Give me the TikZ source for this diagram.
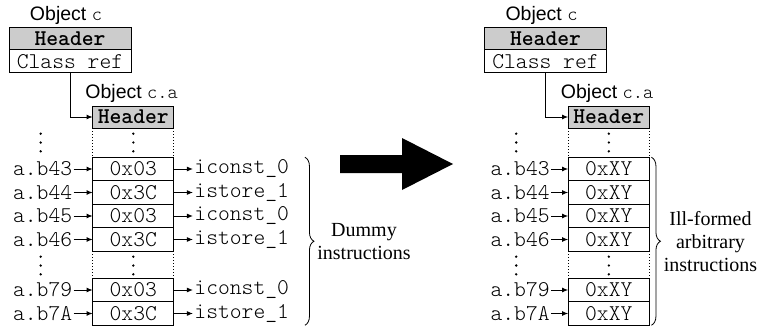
\documentclass[tikz,border=0pt]{standalone}
\usepackage{fontspec}
\setmainfont{Liberation Serif}
\setsansfont{Liberation Sans}
\setmonofont{Latin Modern Mono Light}
\usetikzlibrary{arrows.meta}
\usetikzlibrary{positioning}
\usetikzlibrary{decorations.pathreplacing}

\begin{document}
\begin{tikzpicture}[x=1pt,y=-1pt,>={Latex[length=6pt,width=5pt]},line width=1pt]
		\tikzstyle{objname}=[font=\sffamily\fontsize{19.5}{19.5}\selectfont,inner sep=0pt];
		\tikzstyle{field}=[rectangle,draw,outer sep=0pt,inner sep=0pt,minimum width=122pt,
			font=\ttfamily\fontsize{22.5}{22.5}\selectfont];
		\tikzstyle{head}=[fill=gray!40,font=\ttfamily\bfseries\fontsize{22.5}{22.5}\selectfont];
		\tikzstyle{cell}=[rectangle,draw,outer sep=0pt,inner sep=0pt,minimum width=81.3pt,
			minimum height=23.5pt,font=\ttfamily\fontsize{22.5}{22.5}\selectfont];
		\tikzstyle{addr}=[inner sep=1pt,font=\ttfamily\fontsize{22.5}{22.5}\selectfont];
		\tikzstyle{gap}=[dotted,line width=1pt];
		\tikzstyle{brace}=[decorate,decoration={brace,amplitude=9pt},line width=0.8pt];
		\tikzstyle{note}=[align=center,anchor=west,inner sep=3pt,font=\fontsize{20}{23}\selectfont];
		\useasboundingbox (0,0) rectangle (763,329);

		% before
		\node[objname](oc) at (66,15){Object {\ttfamily c}};
		\node[field,head,minimum height=22pt](c0) at (70,39){Header};
		\node[field,minimum height=23pt,below=0pt of c0](c1){Class ref};
		\node[objname](oa) at (131.7,93){Object {\ttfamily c.a}};
		\node[cell,head,minimum height=22pt](a0) at (133.3,117){Header};
		\draw[->](c1.south)|-(a0.west);
		\node[cell](a1) at (133.3,169){0x03};
		\node[cell,below=0pt of a1](a2){0x3C};
		\node[cell,below=0pt of a2](a3){0x03};
		\node[cell,below=0pt of a3](a4){0x3C};
		\node[cell](a5) at (133.3,290){0x03};
		\node[cell,below=0pt of a5](a6){0x3C};
		\draw[gap](a0.south west)--(a1.north west)(a0.south east)--(a1.north east);
		\draw[gap](a4.south west)--(a5.north west)(a4.south east)--(a5.north east);

		\node[addr,left=19pt of a1](l1){a.b43}edge[->](a1);
		\node[addr,left=19pt of a2](l2){a.b44}edge[->](a2);
		\node[addr,left=19pt of a3](l3){a.b45}edge[->](a3);
		\node[addr,left=19pt of a4](l4){a.b46}edge[->](a4);
		\node[addr,left=19pt of a5](l5){a.b79}edge[->](a5);
		\node[addr,left=19pt of a6](l6){a.b7A}edge[->](a6);

		\node[addr,right=19pt of a1](i1){iconst\_0}edge[<-](a1);
		\node[addr,right=19pt of a2](i2){istore\_1}edge[<-](a2);
		\node[addr,right=19pt of a3](i3){iconst\_0}edge[<-](a3);
		\node[addr,right=19pt of a4](i4){istore\_1}edge[<-](a4);
		\node[addr,right=19pt of a5](i5){iconst\_0}edge[<-](a5);
		\node[addr,right=19pt of a6](i6){istore\_1}edge[<-](a6);

		\foreach \x/\y in {40.7/142.5,133.3/142.5,40.7/265.5,133.3/265.5}
			\foreach \d in {-8.8,0,8.8}
				\fill(\x,\y+\d) circle(1.3pt);

		\draw[brace]([xshift=131pt]a1.north east)--([xshift=131pt]a6.south east)
			node[note,midway,xshift=9pt]{Dummy\\instructions};

		% arrow
		\fill(340,155)--(402,155)--(402,138)--(453,164)--(402,190)--(402,173)--(340,173)--cycle;

		% after
		\begin{scope}[xshift=475.5pt]
		\node[objname](roc) at (66,15){Object {\ttfamily c}};
		\node[field,head,minimum height=22pt](rc0) at (70,39){Header};
		\node[field,minimum height=23pt,below=0pt of rc0](rc1){Class ref};
		\node[objname](roa) at (131.7,93){Object {\ttfamily c.a}};
		\node[cell,head,minimum height=22pt](ra0) at (133.3,117){Header};
		\draw[->](rc1.south)|-(ra0.west);
		\node[cell](ra1) at (133.3,169){0xXY};
		\node[cell,below=0pt of ra1](ra2){0xXY};
		\node[cell,below=0pt of ra2](ra3){0xXY};
		\node[cell,below=0pt of ra3](ra4){0xXY};
		\node[cell](ra5) at (133.3,290){0xXY};
		\node[cell,below=0pt of ra5](ra6){0xXY};
		\draw[gap](ra0.south west)--(ra1.north west)(ra0.south east)--(ra1.north east);
		\draw[gap](ra4.south west)--(ra5.north west)(ra4.south east)--(ra5.north east);

		\node[addr,left=17pt of ra1](rl1){a.b43}edge[->](ra1);
		\node[addr,left=17pt of ra2](rl2){a.b44}edge[->](ra2);
		\node[addr,left=17pt of ra3](rl3){a.b45}edge[->](ra3);
		\node[addr,left=17pt of ra4](rl4){a.b46}edge[->](ra4);
		\node[addr,left=17pt of ra5](rl5){a.b79}edge[->](ra5);
		\node[addr,left=17pt of ra6](rl6){a.b7A}edge[->](ra6);

		\foreach \x/\y in {40.7/142.5,133.3/142.5,40.7/265.5,133.3/265.5}
			\foreach \d in {-8.8,0,8.8}
				\fill(\x,\y+\d) circle(1.3pt);

		\draw[brace]([xshift=2pt]ra1.north east)--([xshift=2pt]ra6.south east)
			node[note,midway,xshift=9pt]{Ill-formed\\arbitrary\\instructions};
		\end{scope}
	\end{tikzpicture}
\end{document}
